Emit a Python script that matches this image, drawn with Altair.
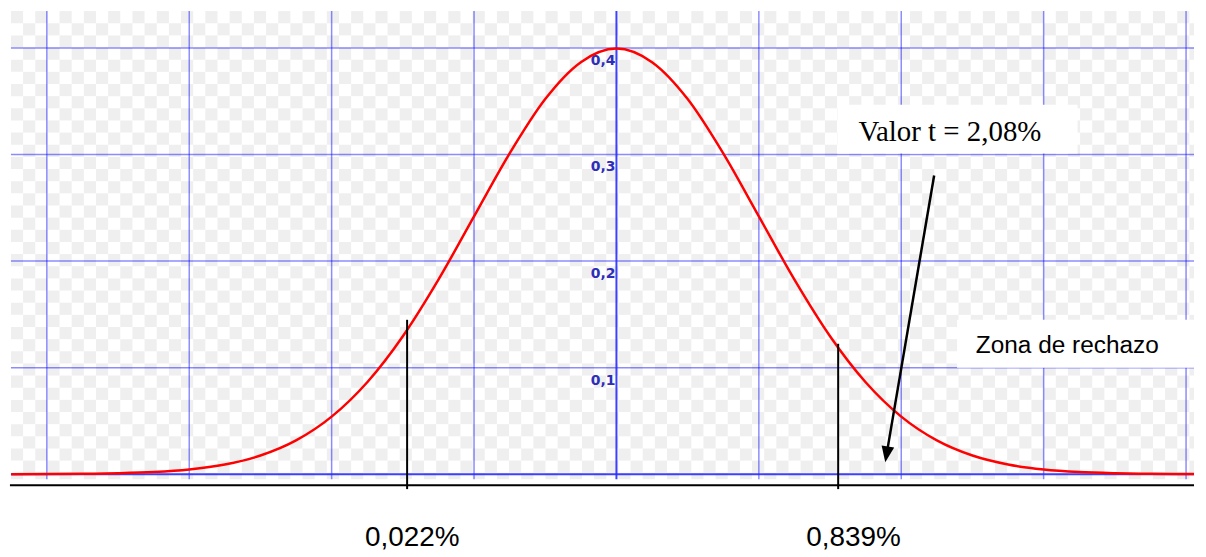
import altair as alt
import pandas as pd

# ---- data ----
curve_x = [-4.25, -4.0, -3.75, -3.5, -3.25, -3.0, -2.75, -2.5, -2.25, -2.0, -1.75, -1.5, -1.25,
           -1.0, -0.75, -0.5, -0.25, 0.0, 0.25, 0.5, 0.75, 1.0, 1.25, 1.5, 1.75, 2.0, 2.25,
           2.5, 2.75, 3.0, 3.25, 3.5, 3.75, 4.0, 4.25]
curve_y = [0.0000, 0.0001, 0.0004, 0.0009, 0.0020, 0.0044, 0.0091, 0.0175, 0.0317, 0.0540,
           0.0863, 0.1295, 0.1826, 0.2420, 0.3011, 0.3521, 0.3867, 0.3995, 0.3867, 0.3521,
           0.3011, 0.2420, 0.1826, 0.1295, 0.0863, 0.0540, 0.0317, 0.0175, 0.0091, 0.0044,
           0.0020, 0.0009, 0.0004, 0.0001, 0.0000]

grid_x = [-4, -3, -2, -1, 1, 2, 3, 4]
grid_y = [0.1, 0.2, 0.3, 0.4]
tick_labels = ["0,1", "0,2", "0,3", "0,4"]

marker_x = [-1.47, 1.557]
marker_top = [0.1449, 0.1224]
marker_labels = ["0,022%", "0,839%"]
marker_label_x = [-1.434, 1.664]

box_text = ["Valor t = 2,08%", "Zona de rechazo"]
box_x1 = [1.552, 2.392]
box_x2 = [3.238, 4.077]
box_y1 = [0.3467, 0.1449]
box_y2 = [0.3009, 0.1000]
box_text_x = [1.699, 2.524]
box_text_y = [0.3124, 0.1140]
box_font = ["Liberation Serif", "Liberation Sans"]
box_size = [29, 24.5]

arrow_start = (2.231, 0.2804)
arrow_end = (1.897, 0.0186)

# ---- scales ----
XMIN, XMAX = -4.2657, 4.0559
YMIN, YMAX = -0.06916, 0.43645
xs = alt.Scale(domain=[XMIN, XMAX], nice=False, zero=False)
ys = alt.Scale(domain=[YMIN, YMAX], nice=False, zero=False)

GRID_L, GRID_R = -4.252, XMAX
GRID_T, GRID_B = 0.4346, -0.0047


def X(f):
    return alt.X(f, type="quantitative", scale=xs, axis=None)


def Y(f):
    return alt.Y(f, type="quantitative", scale=ys, axis=None)


# checkerboard background
cell_x = 12.2 / 143
cell_y = 12.2 / 1070
ncols, nrows = 98, 39
checker = (
    alt.Chart(alt.sequence(0, ncols * nrows, as_="i"))
    .transform_calculate(col=f"datum.i % {ncols}", row=f"floor(datum.i / {ncols})")
    .transform_filter("(datum.col + datum.row) % 2 == 0")
    .transform_calculate(
        x0=f"{GRID_L} + datum.col * {cell_x}",
        x1=f"min({GRID_L} + (datum.col + 1) * {cell_x}, {GRID_R})",
        y0=f"{GRID_T} - datum.row * {cell_y}",
        y1=f"max({GRID_T} - (datum.row + 1) * {cell_y}, {GRID_B})",
    )
    .mark_rect(color="#efefef", strokeWidth=0)
    .encode(x=X("x0:Q"), x2="x1:Q", y=Y("y0:Q"), y2="y1:Q")
)

vgrid = (
    alt.Chart(pd.DataFrame({"x": grid_x, "t": GRID_T, "b": GRID_B}))
    .mark_rule(color="#0000ff", opacity=0.45, strokeWidth=1.5)
    .encode(x=X("x:Q"), y=Y("t:Q"), y2="b:Q")
)
hgrid = (
    alt.Chart(pd.DataFrame({"y": grid_y, "l": GRID_L, "r": GRID_R}))
    .mark_rule(color="#0000ff", opacity=0.45, strokeWidth=1.5)
    .encode(y=Y("y:Q"), x=X("l:Q"), x2="r:Q")
)
vaxis = (
    alt.Chart(pd.DataFrame({"x": [0.0], "t": [GRID_T], "b": [GRID_B]}))
    .mark_rule(color="#2a2aff", opacity=0.9, strokeWidth=2)
    .encode(x=X("x:Q"), y=Y("t:Q"), y2="b:Q")
)
haxis = (
    alt.Chart(pd.DataFrame({"y": [0.0], "l": [GRID_L], "r": [GRID_R]}))
    .mark_rule(color="#2a2aff", opacity=0.9, strokeWidth=2)
    .encode(y=Y("y:Q"), x=X("l:Q"), x2="r:Q")
)
ylabels = (
    alt.Chart(pd.DataFrame({"y": grid_y, "t": tick_labels, "x": [0.0] * 4}))
    .mark_text(align="right", baseline="alphabetic", dx=-1, dy=17, font="DejaVu Sans",
               fontWeight="bold", fontSize=14, color="#2e2eb8")
    .encode(x=X("x:Q"), y=Y("y:Q"), text="t:N")
)

curve = (
    alt.Chart(pd.DataFrame({"x": curve_x, "y": curve_y}))
    .mark_line(color="#ff0000", strokeWidth=2.5, interpolate="monotone", clip=True)
    .encode(x=X("x:Q"), y=Y("y:Q"))
)

baseline = (
    alt.Chart(pd.DataFrame({"l": [-4.259], "r": [XMAX], "y": [-0.0103]}))
    .mark_rule(color="black", strokeWidth=2)
    .encode(y=Y("y:Q"), x=X("l:Q"), x2="r:Q")
)
markers = (
    alt.Chart(pd.DataFrame({"x": marker_x, "t": marker_top, "b": [-0.014, -0.014]}))
    .mark_rule(color="black", strokeWidth=2)
    .encode(x=X("x:Q"), y=Y("t:Q"), y2="b:Q")
)
mlabels = (
    alt.Chart(pd.DataFrame({"x": marker_label_x, "t": marker_labels, "y": [YMIN, YMIN]}))
    .mark_text(align="center", baseline="alphabetic", dy=-1.5, font="Liberation Sans",
               fontSize=28, color="black")
    .encode(x=X("x:Q"), y=Y("y:Q"), text="t:N")
)

boxes = (
    alt.Chart(pd.DataFrame({"x1": box_x1, "x2": box_x2, "y1": box_y1, "y2": box_y2}))
    .mark_rect(color="white", strokeWidth=0)
    .encode(x=X("x1:Q"), x2="x2:Q", y=Y("y1:Q"), y2="y2:Q")
)
btext1 = (
    alt.Chart(pd.DataFrame({"x": box_text_x[:1], "y": box_text_y[:1], "t": box_text[:1]}))
    .mark_text(align="left", baseline="alphabetic", font=box_font[0], fontSize=box_size[0],
               color="black")
    .encode(x=X("x:Q"), y=Y("y:Q"), text="t:N")
)
btext2 = (
    alt.Chart(pd.DataFrame({"x": box_text_x[1:], "y": box_text_y[1:], "t": box_text[1:]}))
    .mark_text(align="left", baseline="alphabetic", font=box_font[1], fontSize=box_size[1],
               color="black")
    .encode(x=X("x:Q"), y=Y("y:Q"), text="t:N")
)

arrow_line = (
    alt.Chart(pd.DataFrame({"x": [arrow_start[0]], "y": [arrow_start[1]],
                            "x2": [arrow_end[0]], "y2": [arrow_end[1]]}))
    .mark_rule(color="black", strokeWidth=2.5)
    .encode(x=X("x:Q"), y=Y("y:Q"), x2="x2:Q", y2="y2:Q")
)
arrow_head = (
    alt.Chart(pd.DataFrame({"x": [arrow_end[0]], "y": [arrow_end[1]]}))
    .mark_point(shape="M0,1L-0.8,-1L0.8,-1Z", size=256, filled=True, color="black",
                opacity=1, angle=9.66)
    .encode(x=X("x:Q"), y=Y("y:Q"))
)

chart = (
    alt.layer(checker, vgrid, hgrid, vaxis, haxis, ylabels, curve, baseline, markers,
              mlabels, boxes, btext1, btext2, arrow_line, arrow_head)
    .properties(width=1190, height=541, padding=0, background="white")
    .configure_view(stroke=None)
)

chart.save("out.html", embed_options={"renderer": "svg", "actions": False})
